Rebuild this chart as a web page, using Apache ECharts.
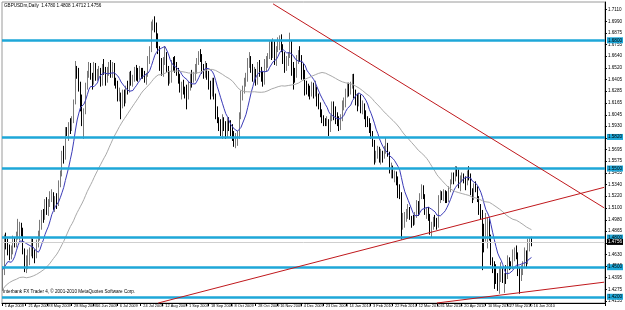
<!DOCTYPE html>
<html><head><meta charset="utf-8">
<script src="https://cdn.jsdelivr.net/npm/echarts@6/dist/echarts.min.js"></script>
<style>html,body{margin:0;padding:0;background:#fff}#c{width:625px;height:310px}</style>
</head><body><div id="c"></div>
<script>
// Prices in pips (price x 10000), daily bars from 1 Apr 2009 to 16 Jun 2010
const open = [
14310,14470,14800,14770,14690,14620,14660,14770,14740,14830,14850,14920,14880,14660,14510,14570,14580,14650,14770,14640,14610,14720,
14800,14950,15040,15010,15140,15080,15160,15200,15240,15110,15190,15130,15350,15440,15640,15600,15880,15860,15930,15920,15990,
16160,16480,16460,16340,16180,15980,16080,16340,16470,16550,16440,16370,16550,16440,16460,16500,16370,16520,16500,16390,16500,16540,
16450,16560,16370,16360,16210,16250,16140,16260,16180,16310,16300,16450,16390,16420,16480,16460,16420,16490,16480,16450,16420,16450,16600,
16700,16960,16990,16950,16780,16720,16550,16510,16570,16650,16520,16390,16430,16580,16540,16530,16480,16440,16300,16310,16290,
16280,16270,16340,16450,16420,16430,16490,16590,16650,16640,16500,16460,16530,16470,16360,16270,16380,16240,16080,16000,15950,15890,
15980,15920,15850,15960,15950,15880,15850,15780,15800,15820,16030,16250,16290,16380,16420,16580,16580,16530,16410,16490,16370,16550,
16470,16460,16380,16560,16570,16640,16770,16640,16780,16580,16700,16770,16780,16730,16650,16510,16590,16650,16770,16530,16470,
16450,16610,16640,16630,16540,16470,16330,16300,16280,16250,16340,16260,16310,16190,16140,16070,15990,15970,15960,15970,15890,16010,
16150,16110,16010,16000,15930,16000,16150,16150,16280,16300,16270,16350,16450,16240,16230,16150,16220,16090,16130,16060,
15990,15980,15910,15840,15750,15620,15620,15660,15590,15650,15620,15680,15730,15650,15480,15510,15440,15440,15390,15270,
15240,14930,14940,15010,15040,15080,15000,14990,14960,15030,15150,15050,15230,15300,15210,15070,15080,15000,14860,14910,14970,14960,14920,
15190,15240,15220,15250,15210,15190,15290,15370,15420,15390,15500,15480,15350,15400,15410,15400,15350,15440,15430,15270,15200,15310,
15300,15190,15090,15020,14820,14780,14840,14950,14800,14550,14500,14440,14380,14370,14420,14460,14390,14420,14410,14580,14520,
14500,14610,14670,14640,14460,14430,14460,14520,14640,14550,14750,14780];
const high = [
14510,14830,14850,14790,14730,14720,14820,14800,14860,14990,14960,14950,14900,14690,14620,14680,14700,14800,14790,14680,14780,14870,
14980,15080,15090,15190,15210,15190,15270,15290,15260,15220,15250,15380,15480,15680,15730,15920,15920,15970,16010,16030,16200,
16590,16540,16520,16380,16250,16110,16370,16490,16580,16570,16470,16580,16570,16510,16540,16520,16560,16610,16530,16530,16580,16600,
16580,16570,16420,16390,16320,16270,16300,16300,16340,16390,16480,16490,16450,16530,16550,16520,16540,16520,16520,16490,16470,16640,16740,
16990,17010,17043,16980,16870,16740,16620,16630,16740,16680,16540,16490,16600,16630,16640,16580,16520,16460,16380,16400,16330,
16350,16380,16460,16500,16480,16560,16620,16690,16710,16660,16560,16590,16570,16490,16390,16420,16420,16260,16130,16020,16000,16050,
16020,15980,16010,16020,15990,15950,15880,15860,15880,16070,16290,16340,16420,16470,16620,16680,16640,16560,16530,16510,16580,16600,
16530,16490,16610,16640,16670,16790,16800,16820,16790,16740,16830,16850,16860,16760,16680,16640,16680,16877,16800,16580,16520,
16650,16700,16740,16650,16570,16500,16390,16360,16340,16380,16370,16390,16330,16260,16170,16100,16040,16010,16030,16000,16040,16180,
16180,16130,16070,16030,16050,16190,16220,16310,16370,16370,16380,16458,16460,16300,16260,16270,16250,16190,16160,16090,
16030,16010,15960,15880,15790,15680,15730,15720,15700,15680,15730,15810,15760,15670,15560,15530,15480,15470,15420,15340,
15260,15050,15060,15090,15140,15110,15020,15030,15060,15180,15170,15250,15340,15330,15240,15110,15110,15040,14960,15010,15030,15000,15230,
15280,15270,15290,15280,15270,15320,15390,15460,15460,15525,15520,15490,15430,15460,15450,15420,15480,15523,15450,15300,15350,15370,
15320,15220,15140,15080,14940,15050,15000,14990,14830,14600,14560,14530,14440,14490,14550,14500,14440,14520,14620,14600,14560,
14680,14700,14720,14650,14500,14520,14560,14700,14670,14790,14800,14808];
const low = [
14260,14420,14680,14620,14570,14580,14630,14700,14700,14780,14770,14810,14630,14450,14440,14480,14520,14610,14590,14540,14590,14700,
14770,14880,14950,14980,15030,15020,15110,15160,15080,15060,15090,15120,15310,15420,15550,15590,15830,15780,15850,15880,15960,
16150,16410,16280,16080,15930,15800,16050,16300,16420,16400,16300,16350,16390,16390,16400,16330,16340,16450,16340,16370,16440,16420,
16420,16340,16310,16180,16180,16000,16110,16130,16160,16250,16270,16340,16330,16380,16390,16380,16400,16410,16410,16370,16350,16430,16560,
16680,16900,16880,16720,16660,16490,16440,16430,16550,16480,16340,16360,16370,16490,16470,16440,16360,16270,16200,16250,16210,
16100,16200,16290,16320,16370,16390,16460,16550,16580,16460,16410,16420,16400,16300,16200,16230,16200,16000,15960,15880,15830,15800,
15880,15800,15820,15880,15830,15780,15720,15706,15730,15800,16000,16190,16260,16330,16380,16520,16470,16380,16370,16340,16350,16430,
16380,16330,16350,16480,16520,16610,16600,16620,16550,16540,16680,16700,16680,16560,16470,16490,16540,16620,16440,16300,16370,
16420,16560,16580,16400,16400,16240,16250,16230,16200,16230,16210,16230,16130,16100,16020,15960,15930,15930,15930,15830,15870,15980,
15990,15950,15930,15880,15890,15980,16090,16120,16220,16230,16250,16310,16210,16140,16080,16130,16060,16050,16000,15920,
15920,15860,15800,15720,15540,15560,15600,15560,15540,15560,15600,15650,15620,15450,15400,15400,15360,15330,15200,15190,
14781,14880,14900,14960,14990,14980,14900,14920,14930,15000,15020,15030,15190,15190,15030,14990,14970,14830,14800,14880,14910,14880,14900,
15150,15180,15170,15150,15150,15160,15260,15340,15340,15370,15420,15300,15270,15360,15350,15280,15330,15380,15230,15150,15180,15260,
15160,15030,14980,14470,14650,14760,14690,14770,14520,14440,14280,14330,14260,14230,14350,14340,14240,14330,14380,14470,14480,
14480,14560,14580,14410,14231,14360,14420,14490,14490,14530,14660,14712];
const close = [
14470,14800,14770,14690,14620,14660,14770,14740,14830,14850,14920,14880,14660,14510,14570,14580,14650,14770,14640,14610,14720,14800,
14950,15040,15010,15140,15080,15160,15200,15240,15110,15190,15130,15350,15440,15640,15600,15880,15860,15930,15920,15990,16160,
16480,16460,16340,16180,15980,16080,16340,16470,16550,16440,16370,16550,16440,16460,16500,16370,16520,16500,16390,16500,16540,16450,
16560,16370,16360,16210,16250,16140,16260,16180,16310,16300,16450,16390,16420,16480,16460,16420,16490,16480,16450,16420,16450,16600,16700,
16960,16990,16950,16780,16720,16550,16510,16570,16650,16520,16390,16430,16580,16540,16530,16480,16440,16300,16310,16290,16280,
16270,16340,16450,16420,16430,16490,16590,16650,16640,16500,16460,16530,16470,16360,16270,16380,16240,16080,16000,15950,15890,15980,
15920,15850,15960,15950,15880,15850,15780,15800,15820,16030,16250,16290,16380,16420,16580,16580,16530,16410,16490,16370,16550,16470,
16460,16380,16560,16570,16640,16770,16640,16780,16580,16700,16770,16780,16730,16650,16510,16590,16650,16770,16530,16470,16450,
16610,16640,16630,16540,16470,16330,16300,16280,16250,16340,16260,16310,16190,16140,16070,15990,15970,15960,15970,15890,16010,16150,
16110,16010,16000,15930,16000,16150,16150,16280,16300,16270,16350,16450,16240,16230,16150,16220,16090,16130,16060,15990,
15980,15910,15840,15750,15620,15620,15660,15590,15650,15620,15680,15730,15650,15480,15510,15440,15440,15390,15270,15240,
14930,14940,15010,15040,15080,15000,14990,14960,15030,15150,15050,15230,15300,15210,15070,15080,15000,14860,14910,14970,14960,14920,15190,
15240,15220,15250,15210,15190,15290,15370,15420,15390,15500,15480,15350,15400,15410,15400,15350,15440,15430,15270,15200,15310,15300,
15190,15090,15020,14820,14780,14840,14950,14800,14550,14500,14440,14380,14370,14420,14460,14390,14420,14410,14580,14520,14500,
14610,14670,14640,14460,14430,14460,14520,14640,14550,14750,14780,14756];
// closes before the first visible bar (20 Jan - 31 Mar 2009), only used by the moving averages
const preClose = [
13790,13900,13800,13720,13950,14050,14320,14150,14470,
14420,14410,14470,14530,14830,14870,14510,14440,14490,14430,14370,14290,14250,14310,14370,14390,14460,14480,14220,14310,
14120,14060,13950,14080,14020,13900,13860,13920,13990,13940,13940,13970,14080,14600,14410,14430,14630,14720,14560,14380,14240,14310];
const yTicks = [1.7110,1.6990,1.6875,1.6755,1.6640,1.6520,1.6405,1.6285,1.6165,1.6045,1.5930,1.5810,1.5695,1.5575,1.5455,1.5340,1.5220,1.5100,1.4980,1.4865,1.4745,1.4630,1.4510,1.4395,1.4275,1.4155];
const tickIdx = [0,14,27,41,54,68,82,95,109,122,136,150,163,177,190,204,218,231,245,258,272,286,299,313];
const tickLabels = ['1 Apr 2009','21 Apr 2009','8 May 2009','28 May 2009','16 Jun 2009','6 Jul 2009','24 Jul 2009','12 Aug 2009','1 Sep 2009','18 Sep 2009','8 Oct 2009','28 Oct 2009','16 Nov 2009','4 Dec 2009','23 Dec 2009','14 Jan 2010','3 Feb 2010','22 Feb 2010','12 Mar 2010','31 Mar 2010','20 Apr 2010','10 May 2010','27 May 2010','16 Jun 2010'];
const levels = [1.6800,1.5820,1.5500,1.4800,1.4500,1.4200];
// trend lines: [[barIndex, price],[barIndex, price]]
const trendLines = [[[160,1.7169],[356,1.5102]],[[92,1.4137],[356,1.5309]],[[257,1.4137],[356,1.4348]]];
const maFastPeriod = 10, maSlowPeriod = 50;
const header = 'GBPUSDm,Daily  1.4780 1.4808 1.4712 1.4756';
const footer = 'Interbank FX Trader 4, \u00a9 2001-2010 MetaQuotes Software Corp.';
const totalSlots = 357;

const MONTHS=['Jan','Feb','Mar','Apr','May','Jun','Jul','Aug','Sep','Oct','Nov','Dec'];
const holidays=['2009-12-25','2010-01-01'];
const categories=[];
let t=Date.UTC(2009,3,1);
while(categories.length<totalSlots){const dt=new Date(t);const wd=dt.getUTCDay();const iso=dt.toISOString().slice(0,10);
 if(wd!==0&&wd!==6&&!holidays.includes(iso)) categories.push(dt.getUTCDate()+' '+MONTHS[dt.getUTCMonth()]+' '+dt.getUTCFullYear());
 t+=86400000;}
const P=v=>v/10000;
const candles=close.map((c,i)=>[P(open[i]),P(c),P(low[i]),P(high[i])]);
const allClose=preClose.concat(close);
function sma(p){const off=preClose.length;return close.map((_,i)=>{let s=0;for(let k=0;k<p;k++)s+=allClose[off+i-k];return +(s/p/10000).toFixed(5);});}
const lastClose=P(close[close.length-1]);
const tickSet=new Set(tickIdx);
const FS=4.6, XFS=3.9, FONT='Liberation Sans';
const CYAN='#1ea7d8', RED='#c0181c';
const mlData=[];
levels.forEach(v=>mlData.push({yAxis:v,lineStyle:{color:CYAN,width:2.5,type:'solid'},
 label:{show:true,position:'end',distance:2,formatter:v.toFixed(4),backgroundColor:CYAN,color:'#000',fontSize:FS,fontFamily:FONT,padding:[1,1,0,1]}}));
mlData.push({yAxis:lastClose,lineStyle:{color:'#cfcfcf',width:1,type:'solid'},
 label:{show:true,position:'end',distance:2,formatter:lastClose.toFixed(4),backgroundColor:'#000',color:'#fff',fontSize:FS,fontFamily:FONT,padding:[1,1,0,1]}});
trendLines.forEach(l=>mlData.push([{coord:l[0],lineStyle:{color:RED,width:1,type:'solid'},label:{show:false}},{coord:l[1]}]));

const chart=echarts.init(document.getElementById('c'),null,{renderer:'canvas'});
chart.setOption({
 animation:false,backgroundColor:'#fff',
 grid:{left:2,right:16,top:2,bottom:7,show:true,borderColor:'#9a9a9a',borderWidth:1},
 xAxis:{type:'category',data:categories,boundaryGap:true,
  axisLine:{show:true,lineStyle:{color:'#000',width:1}},
  axisTick:{show:true,interval:(i)=>tickSet.has(i),length:3,lineStyle:{color:'#000'}},
  axisLabel:{show:true,interval:(i)=>tickSet.has(i),formatter:(v,i)=>tickLabels[tickIdx.indexOf(i)]||'',align:'left',margin:1,padding:[0,0,0,2],fontSize:XFS,fontFamily:FONT,color:'#000'},
  splitLine:{show:false}},
 yAxis:{type:'value',position:'right',min:1.4137,max:1.7188,scale:true,
  axisLine:{show:true,lineStyle:{color:'#000'}},
  axisTick:{show:true,customValues:yTicks,length:2,lineStyle:{color:'#000'}},
  axisLabel:{show:true,customValues:yTicks,formatter:v=>v.toFixed(4),margin:3,fontSize:FS,fontFamily:FONT,color:'#000'},
  splitLine:{show:false}},
 graphic:[
  {type:'text',left:4,top:3,style:{text:header,fontSize:FS,fontFamily:FONT,fill:'#000'}},
  {type:'text',left:3,top:289,style:{text:footer,fontSize:FS,fontFamily:FONT,fill:'#000'}}
 ],
 series:[
  {type:'candlestick',data:candles,barWidth:'75%',
   itemStyle:{color:'#c8c8c8',color0:'#000',borderColor:'#7a7a7a',borderColor0:'#000',borderWidth:1},
   markLine:{symbol:['none','none'],silent:true,animation:false,precision:4,z:10,data:mlData}},
  {type:'line',data:sma(maFastPeriod),showSymbol:false,symbol:'none',lineStyle:{color:'#3b3bb8',width:1},z:3},
  {type:'line',data:sma(maSlowPeriod),showSymbol:false,symbol:'none',lineStyle:{color:'#a9a9a9',width:1},z:3}
 ]
});
</script></body></html>
